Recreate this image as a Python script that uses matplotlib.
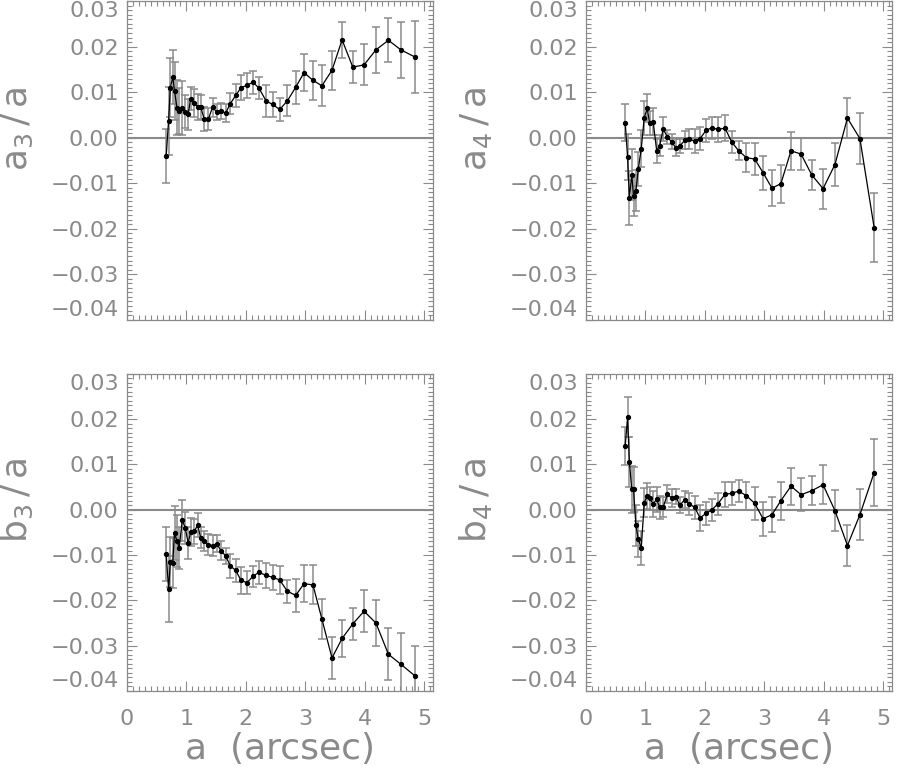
import numpy as np
import matplotlib
matplotlib.use('Agg')
import matplotlib.pyplot as plt
from matplotlib.ticker import MultipleLocator

# semi-major axis (arcsec)
a = [0.66, 0.70, 0.73, 0.77, 0.80, 0.84, 0.88, 0.93, 0.98, 1.03, 1.07, 1.13, 1.19, 1.24,
     1.30, 1.37, 1.44, 1.51, 1.58, 1.66, 1.74, 1.83, 1.92, 2.02, 2.12, 2.22, 2.34, 2.45,
     2.57, 2.70, 2.84, 2.98, 3.13, 3.28, 3.45, 3.62, 3.80, 3.99, 4.19, 4.40, 4.61, 4.85]

a3 = [-0.0040, 0.0037, 0.0110, 0.0133, 0.0103, 0.0066, 0.0059, 0.0065, 0.0057, 0.0051,
      0.0086, 0.0076, 0.0067, 0.0067, 0.0041, 0.0041, 0.0067, 0.0056, 0.0059, 0.0054,
      0.0075, 0.0093, 0.0110, 0.0115, 0.0122, 0.0109, 0.0081, 0.0073, 0.0062, 0.0081,
      0.0111, 0.0143, 0.0126, 0.0114, 0.0148, 0.0215, 0.0155, 0.0160, 0.0193, 0.0214,
      0.0193, 0.0177]
a3_err = [0.0060, 0.0075, 0.0065, 0.0060, 0.0064, 0.0060, 0.0050, 0.0060, 0.0036, 0.0034,
          0.0026, 0.0031, 0.0029, 0.0027, 0.0027, 0.0024, 0.0021, 0.0018, 0.0017, 0.0019,
          0.0024, 0.0026, 0.0027, 0.0027, 0.0025, 0.0024, 0.0035, 0.0027, 0.0026, 0.0034,
          0.0036, 0.0040, 0.0043, 0.0045, 0.0043, 0.0040, 0.0035, 0.0045, 0.0050, 0.0048,
          0.0061, 0.0079]

a4 = [0.0033, -0.0043, -0.0133, -0.0081, -0.0128, -0.0117, -0.0069, -0.0024, 0.0043, 0.0065,
      0.0032, 0.0035, -0.0029, -0.0018, 0.0019, 0.0001, -0.0009, -0.0022, -0.0018, -0.0006,
      -0.0004, -0.0007, -0.0002, 0.0016, 0.0022, 0.0018, 0.0021, -0.0009, -0.0029, -0.0044,
      -0.0047, -0.0077, -0.0111, -0.0101, -0.0029, -0.0036, -0.0082, -0.0112, -0.0059, 0.0043,
      -0.0002, -0.0198]
a4_err = [0.0041, 0.0050, 0.0060, 0.0055, 0.0045, 0.0045, 0.0037, 0.0041, 0.0037, 0.0031,
          0.0026, 0.0030, 0.0027, 0.0023, 0.0027, 0.0016, 0.0016, 0.0018, 0.0015, 0.0020,
          0.0022, 0.0026, 0.0026, 0.0026, 0.0024, 0.0027, 0.0028, 0.0024, 0.0021, 0.0032,
          0.0035, 0.0037, 0.0040, 0.0042, 0.0041, 0.0036, 0.0033, 0.0044, 0.0047, 0.0044,
          0.0056, 0.0076]

b3 = [-0.0098, -0.0175, -0.0116, -0.0117, -0.0051, -0.0069, -0.0084, -0.0023, -0.0040, -0.0074,
      -0.0049, -0.0048, -0.0034, -0.0062, -0.0069, -0.0077, -0.0079, -0.0075, -0.0090, -0.0102,
      -0.0124, -0.0134, -0.0156, -0.0161, -0.0147, -0.0138, -0.0145, -0.0149, -0.0155, -0.0180,
      -0.0189, -0.0163, -0.0166, -0.0241, -0.0327, -0.0284, -0.0252, -0.0224, -0.0250, -0.0319,
      -0.0341, -0.0367]
b3_err = [0.0060, 0.0073, 0.0055, 0.0055, 0.0060, 0.0057, 0.0046, 0.0045, 0.0036, 0.0035,
          0.0030, 0.0028, 0.0026, 0.0023, 0.0023, 0.0023, 0.0023, 0.0019, 0.0020, 0.0018,
          0.0026, 0.0026, 0.0030, 0.0026, 0.0023, 0.0025, 0.0028, 0.0028, 0.0031, 0.0026,
          0.0037, 0.0040, 0.0043, 0.0045, 0.0046, 0.0041, 0.0036, 0.0046, 0.0051, 0.0057,
          0.0069, 0.0067]

b4 = [0.0141, 0.0204, 0.0106, 0.0045, 0.0045, -0.0034, -0.0065, -0.0085, 0.0015, 0.0031,
      0.0025, 0.0013, 0.0023, 0.0005, 0.0006, 0.0034, 0.0026, 0.0029, 0.0010, 0.0022,
      0.0013, 0.0005, -0.0018, -0.0008, 0.0000, 0.0013, 0.0034, 0.0036, 0.0041, 0.0031,
      0.0014, -0.0020, -0.0011, 0.0020, 0.0052, 0.0033, 0.0042, 0.0055, -0.0002, -0.0079,
      -0.0011, 0.0082]
b4_err = [0.0042, 0.0044, 0.0055, 0.0052, 0.0050, 0.0045, 0.0040, 0.0038, 0.0032, 0.0029,
          0.0026, 0.0028, 0.0027, 0.0026, 0.0023, 0.0020, 0.0019, 0.0017, 0.0018, 0.0019,
          0.0024, 0.0025, 0.0028, 0.0025, 0.0024, 0.0024, 0.0028, 0.0026, 0.0025, 0.0031,
          0.0036, 0.0038, 0.0039, 0.0042, 0.0041, 0.0036, 0.0032, 0.0043, 0.0046, 0.0045,
          0.0056, 0.0073]

ylabels = [r'$\mathregular{a_3\,/\,a}$', r'$\mathregular{a_4\,/\,a}$',
           r'$\mathregular{b_3\,/\,a}$', r'$\mathregular{b_4\,/\,a}$']
yticks = [0.03, 0.02, 0.01, 0.00, -0.01, -0.02, -0.03, -0.04]
ytick_labels = ['0.03', '0.02', '0.01', '0.00', '\u22120.01', '\u22120.02', '\u22120.03', '\u22120.04']
xticks = [0, 1, 2, 3, 4, 5]

grey = '#8a8a8a'
plt.rcParams['mathtext.fontset'] = 'dejavusans'

fig = plt.figure(figsize=(9, 7.69), dpi=100)
boxes = [[0.1411, 0.5843, 0.34, 0.4142], [0.6511, 0.5843, 0.34, 0.4142],
         [0.1411, 0.1014, 0.34, 0.4126], [0.6511, 0.1014, 0.34, 0.4126]]
series = [(a3, a3_err), (a4, a4_err), (b3, b3_err), (b4, b4_err)]

for i in range(4):
    ax = fig.add_axes(boxes[i])
    y, e = series[i]
    ax.axhline(0, color=grey, lw=1.5, zorder=1)
    ax.errorbar(a, y, yerr=e, fmt='o-', color='black', ms=2.8, lw=0.9,
                ecolor=grey, elinewidth=1.1, capsize=3, capthick=1.1, zorder=3)
    ax.set_xlim(0, 5.15)
    ax.set_ylim(-0.04, 0.03)
    ax.set_yticks(yticks)
    ax.set_yticklabels(ytick_labels)
    ax.set_xticks(xticks)
    ax.xaxis.set_minor_locator(MultipleLocator(0.1))
    ax.yaxis.set_minor_locator(MultipleLocator(0.001))
    ax.tick_params(which='both', direction='in', top=True, right=True, color=grey,
                   labelcolor=grey, labelsize=16, width=0.8)
    ax.tick_params(which='major', length=7)
    ax.tick_params(which='minor', length=3.5)
    ax.tick_params(axis='y', pad=6)
    ax.tick_params(axis='x', pad=13)
    for s in ax.spines.values():
        s.set_color(grey)
        s.set_linewidth(0.9)
    # keep the end labels inside the box, like the original
    labs = ax.get_yticklabels()
    labs[0].set_verticalalignment('top')
    labs[-1].set_verticalalignment('bottom')
    ax.set_ylabel(ylabels[i], fontsize=26, color=grey)
    ax.yaxis.set_label_coords(-0.30, 0.6)
    if i < 2:
        ax.set_xticklabels([])
    else:
        ax.set_xlabel('a  (arcsec)', fontsize=26, color=grey)
        ax.xaxis.set_label_coords(0.5, -0.13)

plt.savefig('out.png', dpi=100)
